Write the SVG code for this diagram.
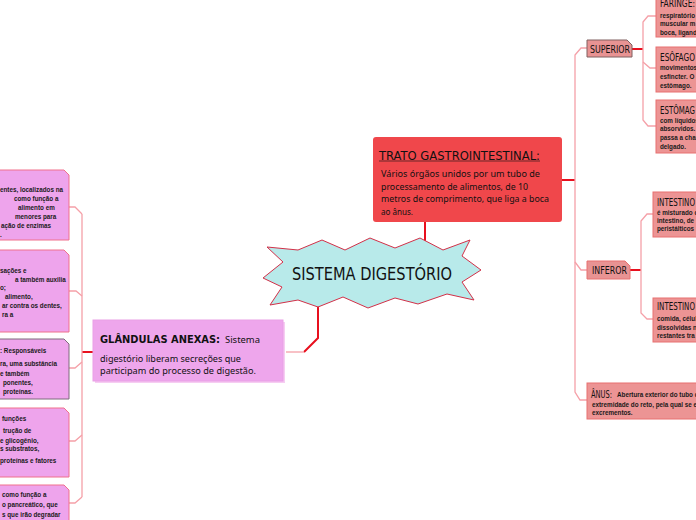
<svg xmlns="http://www.w3.org/2000/svg" width="696" height="520" viewBox="0 0 696 520">
<style>
.lbox{fill:#EEA4EC;stroke:#F0708C;stroke-width:1}
.lboxd{fill:#EEA4EC;stroke:#7E6A7C;stroke-width:1}
.rbox{fill:#EC9494;stroke:#E87070;stroke-width:1}
.small{font-family:"Liberation Sans",Arial,sans-serif;font-weight:bold;font-size:6.3px;fill:#1a1a1a}
.hand{font-family:"Liberation Sans Narrow","DejaVu Sans Condensed","Liberation Sans",sans-serif;fill:#111}
.body{font-family:"Noto Sans","Open Sans",sans-serif;fill:#111}
.red{stroke:#E8101E;stroke-width:2;fill:none}
.pink{stroke:#F5A0A8;stroke-width:1.3;fill:none}
</style>
<rect width="696" height="520" fill="#ffffff"/>

<g id="connectors">
  <path class="red" d="M425,222 V241"/>
  <path class="red" d="M318,306 V338 L304,352"/>
  <path class="pink" d="M304,352 H286"/>
  <path class="red" d="M93,352 H82"/>
  <path class="pink" d="M82,214 V497"/>
  <path class="pink" d="M69,207 H75 L82,214"/>
  <path class="pink" d="M69,291 H76 L82,296"/>
  <path class="pink" d="M69,368 H75 L82,362"/>
  <path class="pink" d="M69,441 H75 L82,435"/>
  <path class="pink" d="M69,503 H75 L82,497"/>
  <path class="red" d="M562,180 H575"/>
  <path class="pink" d="M587,48 H581 L575,55 V392 L580,400 H587"/>
  <path class="pink" d="M575,262 L581,270 H587"/>
  <path class="red" d="M632,49 H643"/>
  <path class="pink" d="M656,16 H648 L643,22 V120 L648,126 H656"/>
  <path class="pink" d="M643,62 L650,68 H656"/>
  <path class="red" d="M630,270 H641"/>
  <path class="pink" d="M653,214 H647 L641,221 V313 L647,319 H653"/>
</g>

<g id="node-center">
  <polygon points="267,247 298,250 322,240 345,250 370,238 395,248 420,238 443,250 470,240 462,256 481,270 462,282 474,300 447,294 418,304 395,298 368,308 343,297 318,307 298,300 270,305 282,287 263,278 283,262" fill="#B8EAEA" stroke="#D23048" stroke-width="1"/>
  <text class="hand" x="292" y="280" font-size="18" textLength="160" lengthAdjust="spacingAndGlyphs">SISTEMA DIGESTÓRIO</text>
</g>

<g id="node-trato">
  <rect x="373" y="137" width="189" height="85" rx="3" fill="#F0474B"/>
  <text class="hand" x="379" y="160" font-size="13" textLength="161" lengthAdjust="spacingAndGlyphs">TRATO GASTROINTESTINAL:</text>
  <line x1="379" y1="161" x2="540" y2="161" stroke="#111" stroke-width="0.6"/>
  <text class="body" font-size="9.5">
    <tspan x="381" y="177" textLength="159" lengthAdjust="spacingAndGlyphs">Vários órgãos unidos por um tubo de</tspan>
    <tspan x="381" y="190" textLength="147" lengthAdjust="spacingAndGlyphs">processamento de alimentos, de 10</tspan>
    <tspan x="381" y="202" textLength="168" lengthAdjust="spacingAndGlyphs">metros de comprimento, que liga a boca</tspan>
    <tspan x="381" y="215" textLength="32" lengthAdjust="spacingAndGlyphs">ao ânus.</tspan>
  </text>
</g>

<g id="node-glandulas">
  <rect x="95" y="322" width="190" height="61" fill="#F6CDF2"/>
  <rect x="93" y="320" width="190" height="61" fill="#EEA6EC" stroke="#E9A0E6" stroke-width="1"/>
  <text class="hand" x="100" y="343" font-size="11" font-weight="bold" textLength="120" lengthAdjust="spacingAndGlyphs">GLÂNDULAS ANEXAS:</text>
  <text class="body" x="225" y="343" font-size="9" textLength="35" lengthAdjust="spacingAndGlyphs">Sistema</text>
  <text class="body" font-size="8.8">
    <tspan x="100" y="362" textLength="141" lengthAdjust="spacingAndGlyphs">digestório liberam secreções que</tspan>
    <tspan x="100" y="374" textLength="156" lengthAdjust="spacingAndGlyphs">participam do processo de digestão.</tspan>
  </text>
</g>

<g id="node-left-1">
  <path class="lbox" d="M-5,170 H64 L69,175 V240 H-5 Z"/>
  <text class="small">
    <tspan x="0" y="192">entes, localizados na</tspan>
    <tspan x="14" y="201">como função a</tspan>
    <tspan x="18" y="210">alimento em</tspan>
    <tspan x="15" y="219">menores para</tspan>
    <tspan x="1" y="228">ação de enzimas</tspan>
    <tspan x="0" y="237">.</tspan>
  </text>
</g>

<g id="node-left-2">
  <path class="lbox" d="M-5,250 H64 L69,255 V332 H-5 Z"/>
  <text class="small">
    <tspan x="0" y="273">sações e</tspan>
    <tspan x="15" y="282">a também auxilia</tspan>
    <tspan x="0" y="290">o;</tspan>
    <tspan x="5" y="299">alimento,</tspan>
    <tspan x="2" y="308">ar contra os dentes,</tspan>
    <tspan x="2" y="317">ra a</tspan>
  </text>
</g>

<g id="node-left-3">
  <path class="lboxd" d="M-5,339 H64 L69,344 V399 H-5 Z"/>
  <text class="small">
    <tspan x="0" y="353">: Responsáveis</tspan>
    <tspan x="0" y="366">ra, uma substância</tspan>
    <tspan x="0" y="376">e também</tspan>
    <tspan x="3" y="385">ponentes,</tspan>
    <tspan x="3" y="394">proteínas.</tspan>
  </text>
</g>

<g id="node-left-4">
  <path class="lbox" d="M-5,408 H64 L69,413 V477 H-5 Z"/>
  <text class="small">
    <tspan x="2" y="421">funções</tspan>
    <tspan x="3" y="433">trução de</tspan>
    <tspan x="0" y="443">e glicogênio,</tspan>
    <tspan x="0" y="451">s substratos,</tspan>
    <tspan x="0" y="463">proteínas e fatores</tspan>
  </text>
</g>

<g id="node-left-5">
  <path class="lbox" d="M-5,485 H64 L69,490 V525 H-5 Z"/>
  <text class="small">
    <tspan x="2" y="497">como função a</tspan>
    <tspan x="2" y="507">o pancreático, que</tspan>
    <tspan x="2" y="517">s que irão degradar</tspan>
  </text>
</g>

<g id="node-superior">
  <path d="M587,40 H627 L632,45 V57 H587 Z" fill="#E89393" stroke="#806060" stroke-width="1"/>
  <text class="hand" x="590" y="53" font-size="10" textLength="40" lengthAdjust="spacingAndGlyphs">SUPERIOR</text>
</g>

<g id="node-inferior">
  <path d="M587,261 H625 L630,266 V279 H587 Z" fill="#E89393" stroke="#E87070" stroke-width="1"/>
  <text class="hand" x="592" y="274" font-size="10" textLength="35" lengthAdjust="spacingAndGlyphs">INFEROR</text>
</g>

<g id="node-faringe">
  <rect class="rbox" x="656" y="-5" width="45" height="42"/>
  <text class="hand" x="660" y="7" font-size="11" textLength="35" lengthAdjust="spacingAndGlyphs">FARINGE:</text>
  <text class="small">
    <tspan x="660" y="18">respiratório</tspan>
    <tspan x="660" y="26">muscular m</tspan>
    <tspan x="660" y="35">boca, ligand</tspan>
  </text>
</g>

<g id="node-esofago">
  <rect class="rbox" x="656" y="47" width="45" height="45"/>
  <text class="hand" x="660" y="61" font-size="11" textLength="35" lengthAdjust="spacingAndGlyphs">ESÔFAGO</text>
  <text class="small">
    <tspan x="660" y="70">movimentos</tspan>
    <tspan x="660" y="79">esfíncter. O</tspan>
    <tspan x="660" y="88">estômago.</tspan>
  </text>
</g>

<g id="node-estomago">
  <rect class="rbox" x="656" y="100" width="45" height="53"/>
  <text class="hand" x="660" y="114" font-size="11" textLength="35" lengthAdjust="spacingAndGlyphs">ESTÔMAG</text>
  <text class="small">
    <tspan x="660" y="123">com líquidos</tspan>
    <tspan x="660" y="131">absorvidos.</tspan>
    <tspan x="660" y="140">passa a cham</tspan>
    <tspan x="660" y="149">delgado.</tspan>
  </text>
</g>

<g id="node-intestino-1">
  <rect class="rbox" x="653" y="192" width="48" height="45"/>
  <text class="hand" x="657" y="206" font-size="11" textLength="38" lengthAdjust="spacingAndGlyphs">INTESTINO</text>
  <text class="small">
    <tspan x="657" y="215">é misturado c</tspan>
    <tspan x="657" y="223">intestino, de</tspan>
    <tspan x="657" y="231">peristálticos</tspan>
  </text>
</g>

<g id="node-intestino-2">
  <rect class="rbox" x="653" y="298" width="48" height="44"/>
  <text class="hand" x="657" y="310" font-size="11" textLength="38" lengthAdjust="spacingAndGlyphs">INTESTINO</text>
  <text class="small">
    <tspan x="657" y="321">comida, célul</tspan>
    <tspan x="657" y="330">dissolvidas n</tspan>
    <tspan x="657" y="338">restantes tra</tspan>
  </text>
</g>

<g id="node-anus">
  <rect class="rbox" x="587" y="383" width="114" height="36"/>
  <text class="hand" x="591" y="398" font-size="10" textLength="21" lengthAdjust="spacingAndGlyphs">ÂNUS:</text>
  <text class="small">
    <tspan x="617" y="397">Abertura exterior do tubo d</tspan>
    <tspan x="592" y="407">extremidade do reto, pela qual se e</tspan>
    <tspan x="592" y="415">excrementos.</tspan>
  </text>
</g>
</svg>
